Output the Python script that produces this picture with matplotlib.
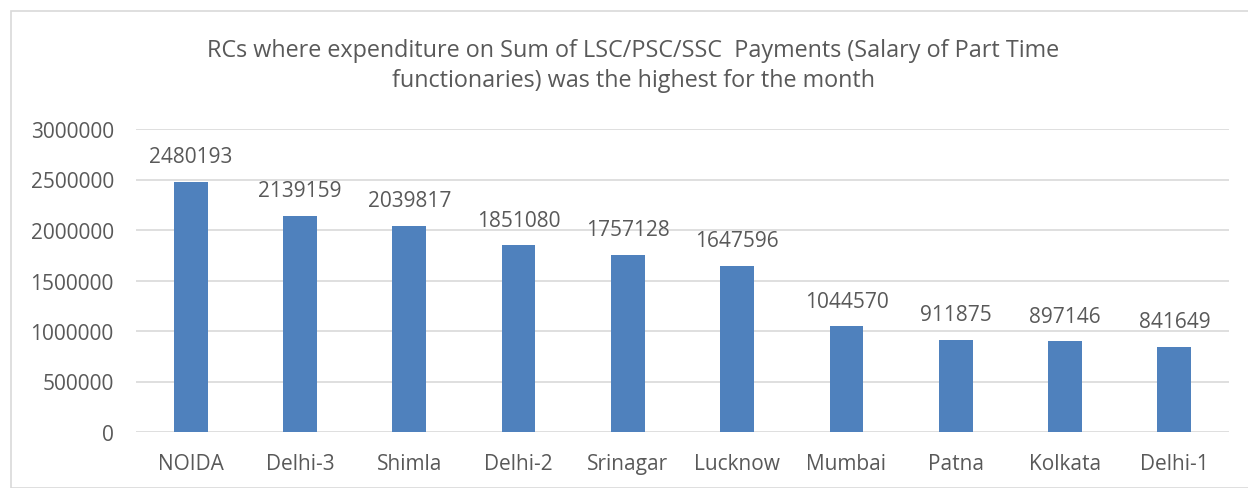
import matplotlib.pyplot as plt
from matplotlib.patches import Rectangle

# Datos
rcs = ["NOIDA", "Delhi-3", "Shimla", "Delhi-2", "Srinagar",
       "Lucknow", "Mumbai", "Patna", "Kolkata", "Delhi-1"]
gasto = [2480193, 2139159, 2039817, 1851080, 1757128,
         1647596, 1044570, 911875, 897146, 841649]
yticks = [0, 500000, 1000000, 1500000, 2000000, 2500000, 3000000]

titulo = ("RCs where expenditure on Sum of LSC/PSC/SSC  Payments (Salary of Part Time\n"
          "functionaries) was the highest for the month")

plt.rcParams["font.family"] = ["Open Sans", "DejaVu Sans"]
gris = "#595959"

fig = plt.figure(figsize=(12.48, 4.89), dpi=100)
W, H = 1248, 489

# marco del gráfico
fig.patches.append(Rectangle((11 / W, 0), 1.0, 1 - 12 / H, transform=fig.transFigure,
                             fill=False, edgecolor="#D9D9D9", lw=1.2))

ax = fig.add_axes([136 / W, 56 / H, (1229 - 136) / W, (433 - 130) / H])
x = range(len(rcs))
ax.bar(x, gasto, width=0.31, color="#4F81BD", zorder=3)

for xi, v in zip(x, gasto):
    ax.annotate(str(v), (xi, v), xytext=(0, 18), textcoords="offset points",
                ha="center", va="center", fontsize=15, color=gris)

ax.set_xlim(-0.5, len(rcs) - 0.5)
ax.set_ylim(0, 3000000)
ax.set_yticks(yticks)
ax.set_yticklabels([str(t) for t in yticks])
ax.set_xticks(list(x))
ax.set_xticklabels(rcs)
ax.tick_params(length=0, labelsize=15, labelcolor=gris)
ax.tick_params(axis="x", pad=15)
ax.tick_params(axis="y", pad=16)
ax.grid(axis="y", color="#D9D9D9", lw=1.2, zorder=0)
for s in ax.spines.values():
    s.set_visible(False)

fig.text(0.5 + 9 / W, 1 - 66 / H, titulo, ha="center", va="center",
         fontsize=16.8, color=gris, linespacing=1.3)

fig.savefig("out.png", dpi=100)
